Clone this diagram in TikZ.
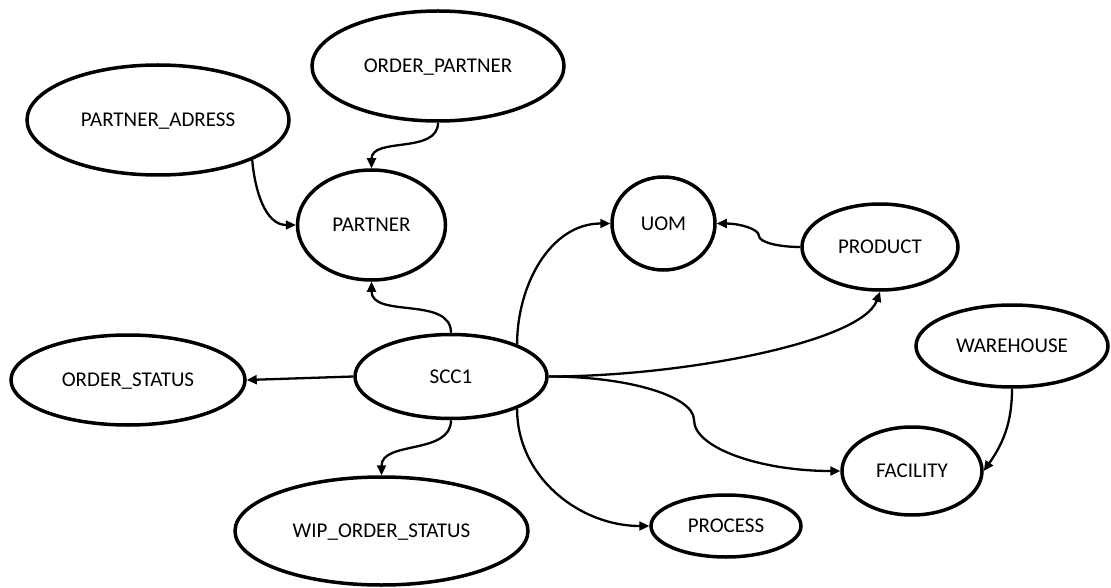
\documentclass[tikz,border=0pt]{standalone}
\usepackage{fontspec}
\setmainfont{Carlito}
\usetikzlibrary{shapes.geometric,arrows.meta}
\begin{document}
\begin{tikzpicture}[x=1pt,y=1pt,
  ent/.style={ellipse,draw=black,line width=3.5pt,inner sep=0pt,
    text height=13.5pt,text depth=0pt,font=\fontsize{21}{25}\selectfont},
  link/.style={line width=2.3pt,-{Triangle[length=10pt,width=9pt]}}]
\useasboundingbox[fill=white] (0,0) rectangle (1111,-588);
\node[ent,minimum width=252pt,minimum height=110pt] (op) at (438,-66) {ORDER\_PARTNER};
\node[ent,minimum width=262pt,minimum height=110pt] (pa) at (158,-120) {PARTNER\_ADRESS};
\node[ent,minimum width=148pt,minimum height=110pt] (p) at (371.5,-225) {PARTNER};
\node[ent,minimum width=103pt,minimum height=93pt] (uom) at (663.5,-223.5) {UOM};
\node[ent,minimum width=156pt,minimum height=86pt] (prod) at (880,-247) {PRODUCT};
\node[ent,minimum width=192pt,minimum height=82pt] (wh) at (1012,-346) {WAREHOUSE};
\node[ent,minimum width=234pt,minimum height=90pt] (os) at (128,-380) {ORDER\_STATUS};
\node[ent,minimum width=192pt,minimum height=84pt] (scc) at (451,-376.5) {SCC1};
\node[ent,minimum width=140pt,minimum height=88pt] (fac) at (912,-471) {FACILITY};
\node[ent,minimum width=150pt,minimum height=62pt] (proc) at (726,-526) {PROCESS};
\node[ent,minimum width=293pt,minimum height=108pt] (wip) at (381.5,-531) {WIP\_ORDER\_STATUS};
\coordinate (k1) at (694,-420);
\coordinate (k2) at (759,-236);
\draw[link] (op.south) to[out=-90,in=90] (p.north);
\draw[link] (pa.-23) to[out=-85,in=180] (p.west);
\draw[link] (scc.north) to[out=90,in=-90] (p.south);
\draw[link] (scc.west) -- (os.east);
\draw[link] (scc.south) to[out=-90,in=90] (wip.north);
\draw[link] (scc.26) to[out=90,in=180] (uom.west);
\draw[link] (scc.-26) to[out=-90,in=180] (proc.west);
\draw[link] (scc.east) to[out=0,in=-110,in looseness=0.4] (prod.south);
\draw[link] (scc.east) to[out=0,in=90,out looseness=1.35,in looseness=0.4] (k1)
  to[out=-90,in=180,out looseness=0.46,in looseness=1.32] (fac.west);
\draw[link] (prod.west) to[out=180,in=-90,out looseness=1.35,in looseness=0.36] (k2)
  to[out=90,in=0,out looseness=0.4,in looseness=1.35] (uom.east);
\draw[link] (wh.south) to[out=-90,in=55] (fac.east);
\end{tikzpicture}
\end{document}
